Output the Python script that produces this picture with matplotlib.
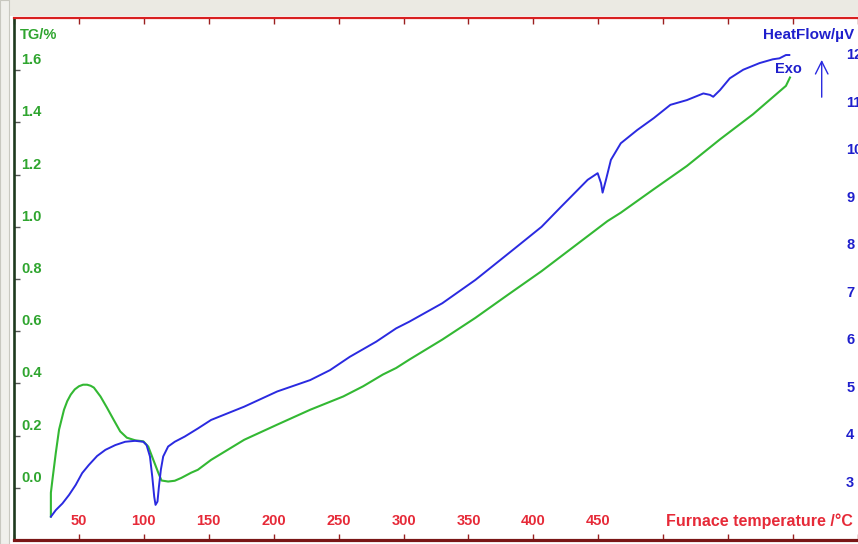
import matplotlib
matplotlib.use("Agg")
import matplotlib.pyplot as plt
from matplotlib.patches import Rectangle
from matplotlib.transforms import blended_transform_factory, offset_copy

# TG curve (left axis, %)
tg_temp = [28.4, 28.4, 29.6, 32.2, 34.7, 38.5, 41.0, 43.7, 46.8, 50.0, 53.2, 56.3,
           59.0, 61.5, 66.6, 71.6, 76.7, 81.8, 86.9, 93.3, 99.6, 103.4, 107.3,
           111.1, 113.6, 118.7, 123.8, 128.9, 136.5, 141.6, 151.8, 177.3, 202.7,
           228.1, 253.6, 268.9, 284.1, 294.3, 304.4, 329.9, 355.3, 380.8, 406.3,
           431.7, 457.1, 467.3, 492.7, 518.2, 543.7, 569.1, 594.5, 597.6]
tg_val = [-0.110, -0.019, 0.031, 0.134, 0.223, 0.299, 0.332, 0.357, 0.377, 0.389,
          0.395, 0.395, 0.391, 0.384, 0.350, 0.307, 0.261, 0.216, 0.192, 0.182,
          0.178, 0.158, 0.107, 0.058, 0.028, 0.024, 0.027, 0.038, 0.058, 0.069,
          0.107, 0.184, 0.242, 0.299, 0.350, 0.389, 0.434, 0.459, 0.491, 0.568,
          0.651, 0.741, 0.830, 0.926, 1.022, 1.054, 1.144, 1.233, 1.335, 1.431,
          1.540, 1.572]

# heat flow curve (right axis, uV)
hf_temp = [28.4, 32.2, 37.3, 42.4, 47.5, 52.5, 57.6, 64.0, 70.4, 78.0, 85.6, 93.3,
           99.6, 102.1, 104.7, 106.5, 108.0, 109.0, 110.5, 111.6, 113.1, 114.9,
           118.7, 123.8, 131.5, 141.6, 151.8, 177.3, 202.7, 228.1, 243.4, 258.6,
           279.0, 294.3, 304.4, 329.9, 355.3, 368.1, 385.9, 406.3, 421.6, 429.2,
           441.8, 449.5, 452.1, 453.3, 455.9, 459.7, 467.3, 480.0, 492.7, 505.5,
           518.2, 530.9, 536.0, 538.5, 543.7, 551.3, 561.6, 574.2, 584.4, 589.5,
           594.5, 597.1]
hf_val = [2.49, 2.63, 2.77, 2.95, 3.16, 3.41, 3.58, 3.77, 3.90, 4.00, 4.07, 4.09,
          4.07, 4.00, 3.76, 3.33, 2.91, 2.74, 2.81, 3.12, 3.48, 3.76, 3.97, 4.07,
          4.18, 4.35, 4.53, 4.81, 5.13, 5.37, 5.58, 5.86, 6.18, 6.46, 6.60, 6.99,
          7.48, 7.76, 8.15, 8.60, 9.03, 9.24, 9.59, 9.73, 9.52, 9.32, 9.59, 10.01,
          10.36, 10.64, 10.89, 11.17, 11.27, 11.41, 11.38, 11.34, 11.48, 11.73,
          11.91, 12.05, 12.13, 12.15, 12.22, 12.22]

x_ticks = list(range(0, 700, 50))
x_labels = [50, 100, 150, 200, 250, 300, 350, 400, 450]
tg_ticks = [0.0, 0.2, 0.4, 0.6, 0.8, 1.0, 1.2, 1.4, 1.6]
hf_ticks = [3, 4, 5, 6, 7, 8, 9, 10, 11, 12]

GREEN = "#33b833"
GREEN_TXT = "#2fa52f"
BLUE = "#2a2ae0"
BLUE_TXT = "#1f1fcc"
RED_TXT = "#e62a38"

plt.rcParams["font.family"] = ["Liberation Sans", "DejaVu Sans"]
plt.rcParams["font.weight"] = "bold"

W, H = 858, 544
fig = plt.figure(figsize=(W / 100, H / 100), dpi=100)
fig.patch.set_facecolor("white")

# window chrome above and left of the plot frame
fig.add_artist(Rectangle((0, 1 - 16 / H), 1, 16 / H, transform=fig.transFigure,
                         facecolor="#ebeae3", edgecolor="none"))
fig.add_artist(Rectangle((0, 0), 9 / W, 1, transform=fig.transFigure,
                         facecolor="#f0f0ec", edgecolor="#c8c8c0", lw=0.8))

x0, y_top, y_bot = 14, 18, 540
ax = fig.add_axes([x0 / W, (H - y_bot) / H, (W - x0) / W, (y_bot - y_top) / H])
ax.set_xlim(0, (W - x0) / 1.31)
ax.set_ylim(-0.2, 1.8)

ax.plot(tg_temp, tg_val, color=GREEN, lw=1.5, zorder=3)

ax2 = ax.twinx()
ax2.set_ylim(2, 13)
ax2.plot(hf_temp, hf_val, color=BLUE, lw=1.4, zorder=3)

for a in (ax, ax2):
    a.spines["right"].set_visible(False)
ax.spines["left"].set_color("#1e3a1e")
ax.spines["left"].set_linewidth(1.9)
ax.spines["top"].set_color("#d82020")
ax.spines["top"].set_linewidth(1.6)
ax.spines["bottom"].set_color("#7a1616")
ax.spines["bottom"].set_linewidth(2.3)
for s in ("left", "top", "bottom"):
    ax2.spines[s].set_visible(False)

ax.set_xticks(x_ticks)
ax.tick_params(axis="x", which="both", direction="in", length=4, width=1,
               color="#9a2020", top=True, bottom=True,
               labelbottom=False, labeltop=False)
ax.set_yticks(tg_ticks)
ax.tick_params(axis="y", direction="in", length=4, width=1, color="#555555",
               labelleft=False)
ax2.set_yticks(hf_ticks)
ax2.tick_params(axis="y", length=0, labelright=False)

# tick labels sit inside the frame, a little above their tick marks
xt = blended_transform_factory(ax.transData, ax.transAxes)
for t in x_labels:
    ax.text(t, 0.036, str(t), transform=xt, ha="center", va="center",
            color=RED_TXT, fontsize=10.5, fontweight="bold")
ax.text(0.772, 0.036, "Furnace temperature /\u00b0C", transform=ax.transAxes,
        ha="left", va="center", color=RED_TXT, fontsize=11.5, fontweight="bold")

lt = offset_copy(blended_transform_factory(ax.transAxes, ax.transData),
                 fig=fig, x=0, y=10, units="dots")
for v in tg_ticks:
    ax.text(0.009, v, f"{v:.1f}", transform=lt, ha="left", va="center",
            color=GREEN_TXT, fontsize=10.5, fontweight="bold")

rt = offset_copy(blended_transform_factory(ax2.transAxes, ax2.transData),
                 fig=fig, x=0, y=10, units="dots")
for v in hf_ticks:
    ax2.text(0.986, v, str(v), transform=rt, ha="left", va="center",
             color=BLUE_TXT, fontsize=10.5, fontweight="bold", clip_on=False)

ax.text(0.007, 0.967, "TG/%", transform=ax.transAxes, ha="left", va="center",
        color=GREEN_TXT, fontsize=10.5, fontweight="bold")
ax2.text(0.887, 0.967, "HeatFlow/\u00b5V", transform=ax2.transAxes, ha="left",
         va="center", color=BLUE_TXT, fontsize=11, fontweight="bold")
ax2.text(0.918, 0.902, "Exo", transform=ax2.transAxes, ha="center",
         va="center", color=BLUE_TXT, fontsize=10.5, fontweight="bold")
ax2.annotate("", xy=(0.957, 0.925), xytext=(0.957, 0.843),
             xycoords="axes fraction", textcoords="axes fraction",
             arrowprops=dict(arrowstyle="->,head_width=0.45,head_length=0.9",
                             color=BLUE, lw=1.0))

fig.savefig("out.png", dpi=100)
plt.close(fig)
